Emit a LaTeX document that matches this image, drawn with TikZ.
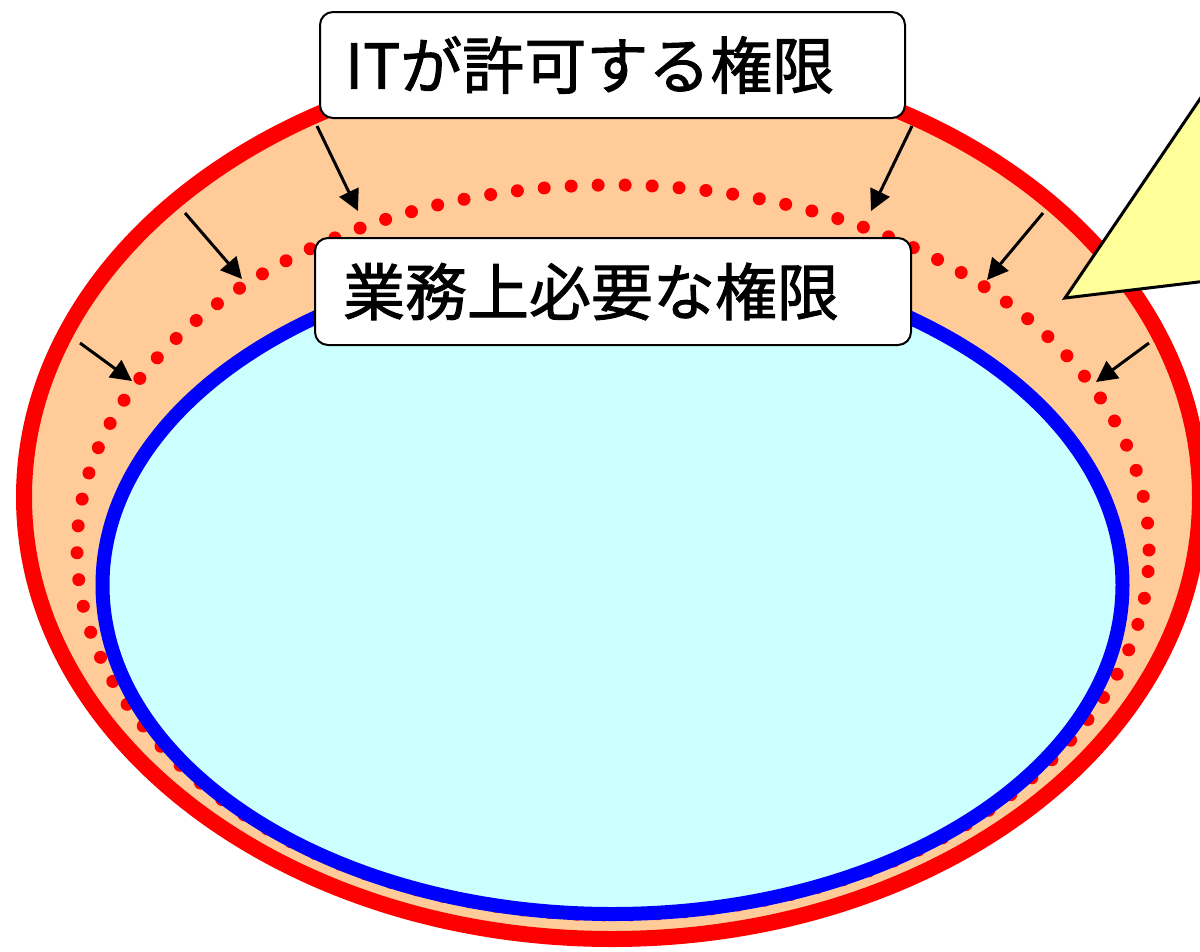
\documentclass[tikz,border=0pt]{standalone}
\usepackage{fontspec}
\setmainfont{Noto Sans CJK JP}
\newfontfamily\lblfont{Noto Sans CJK JP}[FakeBold=1.5]
\usetikzlibrary{arrows.meta}
\definecolor{peach}{HTML}{FFCC99}
\definecolor{paleCyan}{HTML}{CCFFFF}
\definecolor{paleYellow}{HTML}{FFFF99}
\tikzset{
  outerring/.style={draw=red, fill=peach, line width=16pt},
  dotring/.style={draw=red, line width=13pt, line cap=round, dash pattern=on 0pt off 27pt},
  innerring/.style={draw=blue, fill=paleCyan, line width=14pt},
  shrink/.style={draw=black, line width=3pt, -{Triangle[length=21pt,width=21pt]}},
  lbl/.style={draw=black, line width=2pt, fill=white, rounded corners=13pt,
    align=left, font=\lblfont\fontsize{62}{70}\selectfont},
  callout/.style={draw=black, fill=paleYellow, line width=3pt, line join=miter}
}
\begin{document}
\begin{tikzpicture}[x=1pt,y=-1pt]
\useasboundingbox (0,0) rectangle (1200,951);
\clip (0,0) rectangle (1200,951);
% rings
\draw[outerring] (612,497) ellipse [x radius=588pt, y radius=442pt];
\draw[dotring] (613,550) ellipse [x radius=536pt, y radius=365pt];
\draw[innerring] (612.5,585) ellipse [x radius=510pt, y radius=329pt];
% arrow end points
\coordinate (a1s) at (317,126); \coordinate (a1e) at (358,211);
\coordinate (a2s) at (912,126); \coordinate (a2e) at (871,211);
\coordinate (a3s) at (185,213); \coordinate (a3e) at (242,279);
\coordinate (a4s) at (80,343);  \coordinate (a4e) at (132,381);
\coordinate (a5s) at (1043,213); \coordinate (a5e) at (987,280);
\coordinate (a6s) at (1149,343); \coordinate (a6e) at (1096,382);
\foreach \i in {1,...,6} \draw[shrink] (a\i s) -- (a\i e);
% labels
\node[lbl, minimum width=585pt, minimum height=106pt, text width=535pt, inner xsep=25pt]
  (it) at (612.5,65) {ITが許可する権限};
\node[lbl, minimum width=596pt, minimum height=107pt, text width=540pt, inner xsep=28pt]
  (biz) at (613,291.5) {業務上必要な権限};
% callout pointer
\coordinate (tip) at (1065,298);
\draw[callout] (tip) -- (1240,277) -- (1240,40) -- cycle;
\end{tikzpicture}
\end{document}
